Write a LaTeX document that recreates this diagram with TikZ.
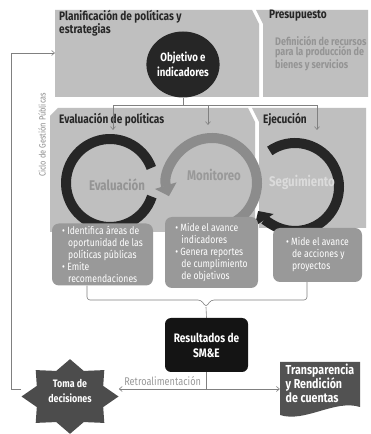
\documentclass[tikz,border=0pt]{standalone}
\usepackage{fontspec}
\setmainfont{Fira Sans}[FakeStretch=0.82]
\usetikzlibrary{shapes.geometric, arrows.meta}

\tikzset{
  panel/.style={fill=black!25},
  title/.style={font=\bfseries\fontsize{12.3}{13}\selectfont, text=black!85, align=left, inner sep=1pt},
  ring/.style={line width=10pt},
  ringtip/.style={-{Triangle[width=22pt,length=11pt]}},
  ringlbl/.style={font=\bfseries\fontsize{14}{15}\selectfont},
  smebox/.style={rounded corners=7pt, fill=black!40, text=white, align=left,
    font=\fontsize{10.5}{12}\selectfont, inner sep=2pt},
  resbox/.style={rounded corners=6pt, fill=black!92, text=white, align=center,
    minimum width=83pt, minimum height=54pt, font=\bfseries\fontsize{12.3}{15}\selectfont},
  link/.style={draw=black!50, line width=0.6pt},
  arrowlink/.style={link, -{Straight Barb[length=3pt,width=5pt]}},
}

\begin{document}
\begin{tikzpicture}[x=1pt, y=1pt]
  \useasboundingbox (0,0) rectangle (370,434);
  \fill[white] (0,0) rectangle (370,434);

  % ── Top row: planning and budget ───────────────────────────────────
  \fill[panel] (55,424) -- (252,424) -- (259,410) -- (259,337) -- (55,337) -- cycle;
  \fill[panel] (256,424) -- (368,424) -- (368,337) -- (263,337) -- (263,410) -- cycle;
  \node[title, anchor=north west] (plan) at (58,425) {Planificación de políticas y\\estrategias};
  \node[title, anchor=north west] (presu) at (268,425) {Presupuesto};
  \node[anchor=north west, align=left, inner sep=1pt, text=black!42,
        font=\bfseries\fontsize{11}{10.3}\selectfont] (presuT) at (274,399)
        {Definición de recursos\\para la producción de\\bienes y servicios};
  \node[ellipse, fill=black!85, text=white, align=center, inner sep=0pt,
        minimum width=64pt, minimum height=66pt,
        font=\bfseries\fontsize{11.8}{15}\selectfont] (obj) at (183,369.5)
        {Objetivo e\\indicadores};

  % ── Middle row: evaluation and execution ──────────────────────────
  \fill[panel] (58,326) -- (248,326) -- (255,312) -- (255,202) -- (50,202) -- (50,318) -- cycle;
  \fill[panel] (252,326) -- (366,326) -- (366,206) -- (259,206) -- (259,312) -- cycle;
  \node[title, anchor=west] (evalT) at (58,314) {Evaluación de políticas};
  \node[title, anchor=west] (ejeT) at (262,314) {Ejecución};

  % split from the objective to the three panels
  \coordinate (split) at (183,329);
  \coordinate (evalIn) at (113,304);
  \coordinate (monIn) at (208,309);
  \coordinate (ejeIn) at (317,304);
  \draw[link] (obj.south) -- (split);
  \draw[arrowlink] (split) -| (evalIn);
  \draw[arrowlink] (split) -| (monIn);
  \draw[arrowlink] (split) -| (ejeIn);

  % circular arrows
  \draw[ring, black!45, ringtip] (212,251) ++(-62:45) arc[start angle=-62, end angle=197, radius=45];
  \draw[ring, black!85] (110,251) ++(20:44) arc[start angle=20, end angle=342, radius=44];
  \draw[ring, black!85, ringtip] (295,247) ++(125:44) arc[start angle=125, end angle=-147, radius=44];
  \node[ringlbl, text=black!42] (evalL) at (117,249) {Evaluación};
  \node[ringlbl, text=black!40] (monL) at (214,259) {Monitoreo};
  \node[ringlbl, text=black!14] (segL) at (302,252) {Seguimiento};

  % ── Description boxes ──────────────────────────────────────────────
  \node[smebox, minimum width=101pt, minimum height=62pt] (box1) at (102.5,179.5)
    {• Identifica áreas de\\\hspace*{6pt}oportunidad de las\\\hspace*{6pt}políticas públicas\\• Emite\\\hspace*{6pt}recomendaciones};
  \node[smebox, minimum width=93pt, minimum height=71pt] (box2) at (211.5,181.5)
    {• Mide el avance\\\hspace*{6pt}indicadores\\• Genera reportes\\\hspace*{6pt}de cumplimiento\\\hspace*{6pt}de objetivos};
  \node[smebox, minimum width=89pt, minimum height=54pt] (box3) at (317.5,179)
    {• Mide el avance\\\hspace*{6pt}de acciones y\\\hspace*{6pt}proyectos};

  % brace gathering the three boxes
  \coordinate (bl) at (87,134);
  \coordinate (br) at (307,134);
  \coordinate (bt) at (206,127);
  \draw[link, rounded corners=3pt] (box1.south -| bl) -- (bl) -- ([xshift=-5pt]bt |- bl)
    -- (bt) -- ([xshift=5pt]bt |- bl) -- (br) -- (box3.south -| br);

  % ── Results and outputs ────────────────────────────────────────────
  \node[resbox] (res) at (206.5,89) {Resultados de\\SM\&E};
  \draw[link] (bt) -- (res.north);

  \node[star, star points=8, star point ratio=1.35, minimum size=97pt, inner sep=0pt,
        fill=black!70, yscale=0.77, transform shape] (tomaS) at (70,37.5) {};
  \node[text=white, align=center, font=\bfseries\fontsize{10.8}{15}\selectfont] (toma)
        at (70,43) {Toma de\\decisiones};

  \fill[black!68] (280,72) -- (360,72) -- (360,27) .. controls (335,35) and (305,11) .. (280,19) -- cycle;
  \node[minimum width=80pt, inner sep=1pt, align=left, text=white,
        font=\bfseries\fontsize{13}{13.5}\selectfont] (transp) at (320,51)
        {Transparencia\\y Rendición\\de cuentas};

  \coordinate (fb) at (206.5,45);
  \draw[link] (res.south) -- (fb);
  \draw[arrowlink] (fb) -- (fb -| tomaS.east)
    node[midway, above, text=black!40, font=\fontsize{11.2}{12}\selectfont] (retro) {Retroalimentación};
  \draw[arrowlink] (fb) -- (fb -| transp.west);

  % feedback loop back to planning
  \coordinate (planW) at (55,381);
  \draw[arrowlink] ([yshift=7.5pt]tomaS.west) -- ++(-10,0) |- (planW);
  \node[rotate=90, text=black!45, font=\fontsize{9}{10}\selectfont] (ciclo) at (42,299)
        {Ciclo de Gestión Públicas};

\end{tikzpicture}
\end{document}
